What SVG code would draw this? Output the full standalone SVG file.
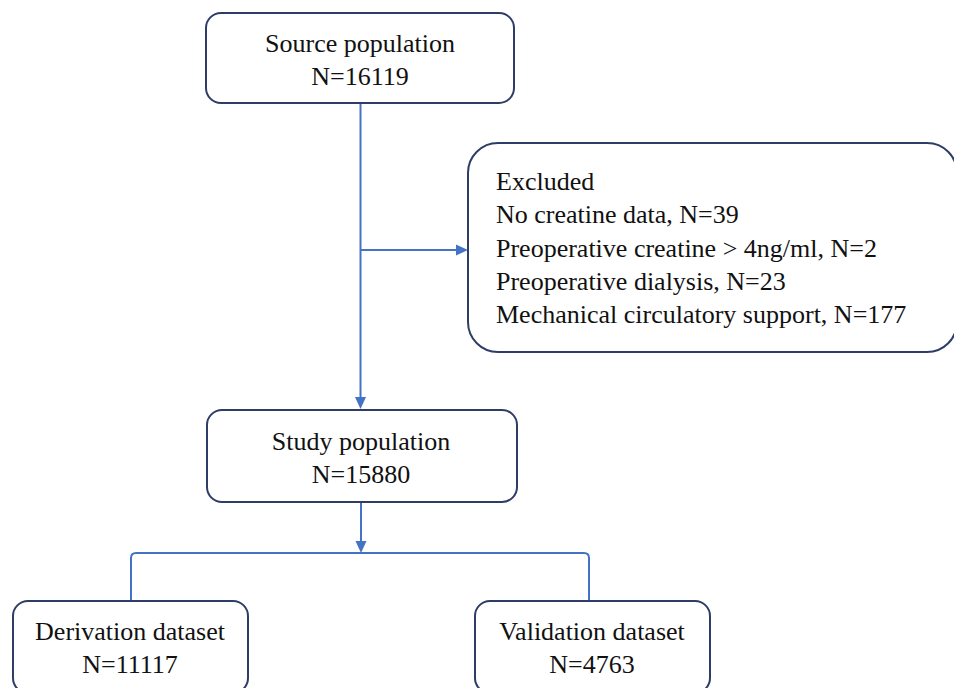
<svg xmlns="http://www.w3.org/2000/svg" width="954" height="688" viewBox="0 0 954 688">
<style>
.box{fill:#fff;stroke:#2f3d66;stroke-width:2}
.t{font-family:"Liberation Serif","Times New Roman",serif;font-size:26px;fill:#111}
.c{text-anchor:middle}
.ln{fill:none;stroke:#4472c4;stroke-width:2}
.ah{fill:#4472c4}
</style>
<rect width="954" height="688" fill="#fff"/>
<g id="connectors">
<path class="ln" d="M360.5,103 V399"/>
<polygon class="ah" points="355,397 366,397 360.5,409"/>
<path class="ln" d="M360.5,250 H458"/>
<polygon class="ah" points="456,244.5 456,255.5 468,250"/>
<path class="ln" d="M361,502 V543"/>
<polygon class="ah" points="355.5,541 366.5,541 361,553"/>
<path class="ln" d="M131,601 V558 Q131,553 136,553 H584 Q589,553 589,558 V601"/>
</g>
<g id="source">
<rect class="box" x="206" y="13" width="308" height="90" rx="15"/>
<text class="t c" x="360" y="52">Source population</text>
<text class="t c" x="360" y="85">N=16119</text>
</g>
<g id="excluded">
<rect class="box" x="468" y="143" width="489" height="209" rx="30"/>
<text class="t" x="496" y="190">Excluded</text>
<text class="t" x="496" y="223">No creatine data, N=39</text>
<text class="t" x="496" y="257">Preoperative creatine &gt; 4ng/ml, N=2</text>
<text class="t" x="496" y="290">Preoperative dialysis, N=23</text>
<text class="t" x="496" y="323">Mechanical circulatory support, N=177</text>
</g>
<g id="study">
<rect class="box" x="207" y="410" width="310" height="92" rx="15"/>
<text class="t c" x="361" y="450">Study population</text>
<text class="t c" x="361" y="483">N=15880</text>
</g>
<g id="derivation">
<rect class="box" x="13" y="601" width="235" height="92" rx="15"/>
<text class="t c" x="130" y="640">Derivation dataset</text>
<text class="t c" x="130" y="673">N=11117</text>
</g>
<g id="validation">
<rect class="box" x="475" y="601" width="235" height="92" rx="15"/>
<text class="t c" x="592" y="640">Validation dataset</text>
<text class="t c" x="592" y="673">N=4763</text>
</g>
</svg>
